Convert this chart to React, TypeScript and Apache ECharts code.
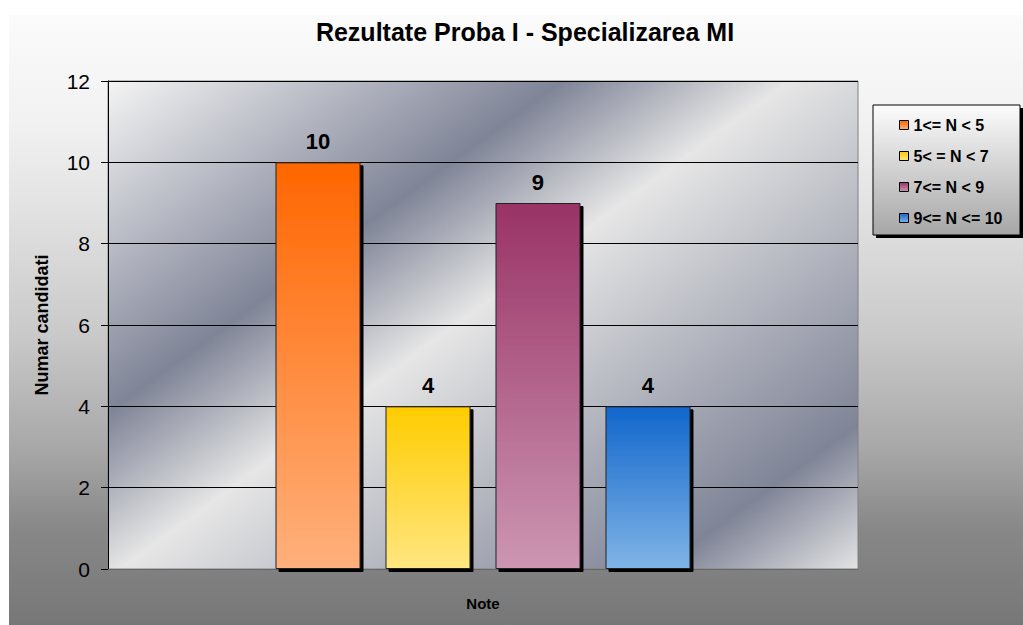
import React, { useEffect, useRef } from 'react';
import * as echarts from 'echarts';

const categories = ['Note'];
const seriesNames = ['1<= N < 5', '5< = N < 7', '7<= N < 9', '9<= N <= 10'];
const seriesValues = [10, 4, 9, 4];
const topColors = ['#ff6600', '#ffcc00', '#993366', '#1166cc'];
const bottomColors = ['#ffb07c', '#ffe680', '#cc96b2', '#80b4e6'];
const yTicks = [0, 2, 4, 6, 8, 10, 12];
const titleText = 'Rezultate Proba I - Specializarea MI';
const yAxisTitle = 'Numar candidati';
const xAxisTitle = 'Note';

const FONT = "'Liberation Sans', Arial, sans-serif";

export default function App() {
  const ref = useRef<HTMLDivElement>(null);

  useEffect(() => {
    if (!ref.current) return;
    const chart = echarts.init(ref.current, null, { renderer: 'svg' });

    const plotGradient = new echarts.graphic.LinearGradient(
      108, 81, 601, 757,
      [
        { offset: 0, color: '#f4f4f4' },
        { offset: 0.32, color: '#7f8497' },
        { offset: 0.48, color: '#e6e6e6' },
        { offset: 0.86, color: '#7f8497' },
        { offset: 1, color: '#e4e4e4' },
      ],
      true
    );

    const chartBg = new echarts.graphic.LinearGradient(0, 0, 0, 1, [
      { offset: 0, color: '#fbfbfb' },
      { offset: 0.17, color: '#f2f2f2' },
      { offset: 0.3, color: '#e4e4e4' },
      { offset: 0.52, color: '#cacaca' },
      { offset: 0.71, color: '#a8a8a8' },
      { offset: 0.84, color: '#888888' },
      { offset: 1, color: '#777777' },
    ]);

    const legendBg = new echarts.graphic.LinearGradient(0, 0, 0, 1, [
      { offset: 0, color: '#fcfcfc' },
      { offset: 1, color: '#a6a6a6' },
    ]);

    const option: any = {
      animation: false,
      title: {
        text: titleText,
        left: 520,
        top: 14,
        textAlign: 'center',
        textStyle: { fontFamily: FONT, fontSize: 25, fontWeight: 'bold', color: '#000' },
      },
      graphic: [
        {
          type: 'rect',
          z: -10,
          silent: true,
          shape: { x: 9, y: 15, width: 1014, height: 610 },
          style: { fill: chartBg },
        },
        {
          type: 'rect',
          z: 3,
          silent: true,
          shape: { x: 876, y: 108, width: 147, height: 130 },
          style: { fill: '#000' },
        },
        {
          type: 'rect',
          z: 3,
          silent: true,
          shape: { x: 873, y: 105, width: 147, height: 130 },
          style: { fill: legendBg, stroke: '#000', lineWidth: 1 },
        },
      ],
      legend: {
        orient: 'vertical',
        left: 899,
        top: 117,
        padding: 0,
        itemWidth: 9,
        itemHeight: 9,
        itemGap: 15,
        icon: 'rect',
        data: seriesNames,
        textStyle: { fontFamily: FONT, fontSize: 16, fontWeight: 'bold', color: '#000' },
        itemStyle: {
          borderColor: '#000',
          borderWidth: 1,
          shadowBlur: 0,
          shadowOffsetX: 0,
          shadowOffsetY: 0,
          shadowColor: 'rgba(0,0,0,0)',
        },
      },
      grid: {
        left: 108,
        top: 81,
        width: 750,
        height: 488,
        show: true,
        backgroundColor: plotGradient,
        borderColor: '#808080',
        borderWidth: 1,
      },
      xAxis: {
        type: 'category',
        data: categories,
        name: xAxisTitle,
        nameLocation: 'middle',
        nameGap: 27,
        nameTextStyle: { fontFamily: FONT, fontSize: 15, fontWeight: 'bold', color: '#000' },
        axisLabel: { show: false },
        axisTick: { show: false },
        axisLine: { lineStyle: { color: '#666', width: 1 } },
      },
      yAxis: {
        type: 'value',
        min: yTicks[0],
        max: yTicks[yTicks.length - 1],
        interval: yTicks[1] - yTicks[0],
        name: yAxisTitle,
        nameLocation: 'middle',
        nameGap: 57,
        nameRotate: 90,
        nameTextStyle: { fontFamily: FONT, fontSize: 18, fontWeight: 'bold', color: '#000' },
        axisLine: { show: true, lineStyle: { color: '#000', width: 1 } },
        axisTick: { show: true, length: 7, lineStyle: { color: '#000' } },
        axisLabel: { margin: 18, fontFamily: FONT, fontSize: 21, color: '#000' },
        splitLine: { show: true, lineStyle: { color: '#000', width: 1 } },
      },
      series: seriesNames.map((name, i) => ({
        type: 'bar',
        name,
        data: [seriesValues[i]],
        barWidth: 85,
        barGap: '29.4%',
        itemStyle: {
          color: new echarts.graphic.LinearGradient(0, 0, 0, 1, [
            { offset: 0, color: topColors[i] },
            { offset: 1, color: bottomColors[i] },
          ]),
          borderColor: '#222',
          borderWidth: 1,
          shadowColor: '#000',
          shadowBlur: 0,
          shadowOffsetX: 3,
          shadowOffsetY: 3,
        },
        label: {
          show: true,
          position: 'top',
          distance: 10,
          fontFamily: FONT,
          fontSize: 22,
          fontWeight: 'bold',
          color: '#000',
        },
      })),
    };

    chart.setOption(option);
    return () => chart.dispose();
  }, []);

  return (
    <div
      ref={ref}
      style={{ position: 'absolute', left: 0, top: 0, width: 1023, height: 625, background: '#fff' }}
    />
  );
}
